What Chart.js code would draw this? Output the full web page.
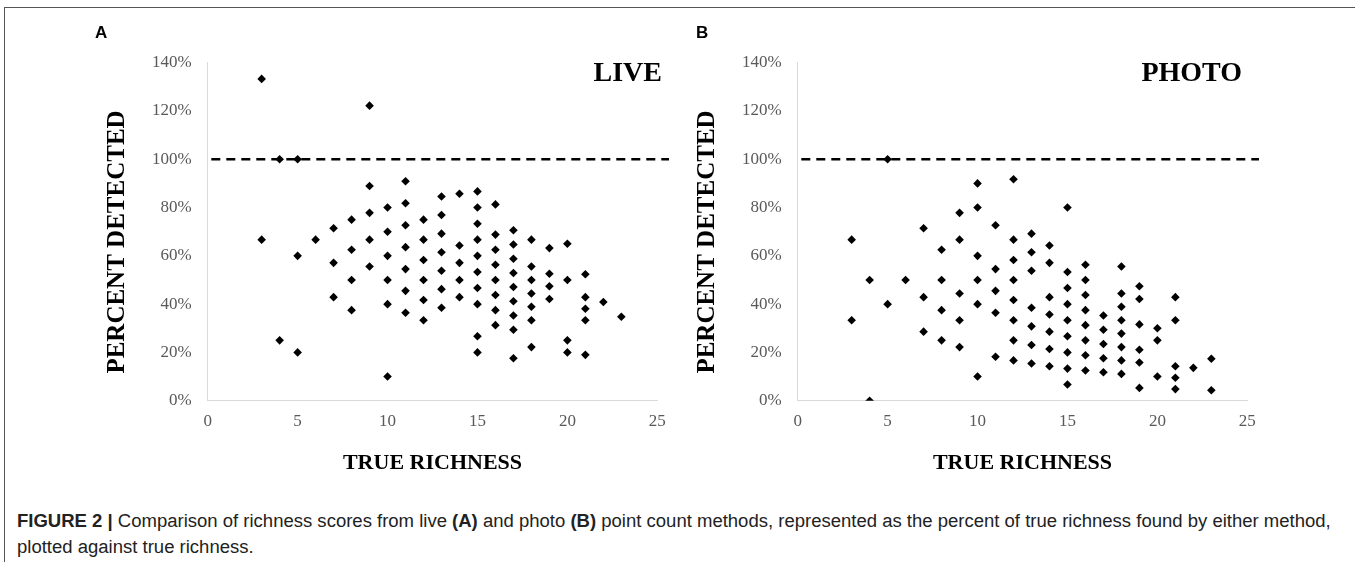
<!DOCTYPE html>
<html>
<head>
<meta charset="utf-8">
<script src="https://cdn.jsdelivr.net/npm/chart.js@4.4.1/dist/chart.umd.min.js"></script>
<style>
body{margin:0;background:#fff;width:1355px;height:562px;overflow:hidden;position:relative;font-family:"Liberation Sans",Arial,sans-serif}
#frame{position:absolute;left:4px;top:7px;right:0;bottom:0;border-top:1px solid #555;border-left:1px solid #555}
canvas{position:absolute;top:0}
#chartLive{left:0}
#chartPhoto{left:590px}
.cap{position:absolute;left:17px;white-space:nowrap;font-size:18px;line-height:18px;color:#222;transform-origin:0 0}
</style>
</head>
<body>
<div id="frame"></div>
<canvas id="chartLive" width="680" height="490"></canvas>
<canvas id="chartPhoto" width="680" height="490"></canvas>
<div class="cap" id="cap1" style="top:512px"><b>FIGURE 2 |</b> Comparison of richness scores from live <b>(A)</b> and photo <b>(B)</b> point count methods, represented as the percent of true richness found by either method,</div>
<div class="cap" id="cap2" style="top:538px">plotted against true richness.</div>
<script>
// LIVE: true richness / percent detected
const liveRichness = [3,3, 4,4, 5,5,5, 6, 7,7,7, 8,8,8,8, 9,9,9,9,9,
  10,10,10,10,10,10, 11,11,11,11,11,11,11, 12,12,12,12,12,12,
  13,13,13,13,13,13,13, 14,14,14,14,14,
  15,15,15,15,15,15,15,15,15,15, 16,16,16,16,16,16,16,16,
  17,17,17,17,17,17,17,17,17, 18,18,18,18,18,18,18, 19,19,19,19,
  20,20,20,20, 21,21,21,21,21, 22, 23];
const livePercent = [133.3,66.7, 100,25, 100,60,20, 66.7, 71.4,57.1,42.9, 75,62.5,50,37.5, 122.2,88.9,77.8,66.7,55.6,
  80,70,60,50,40,10, 90.9,81.8,72.7,63.6,54.5,45.5,36.4, 75,66.7,58.3,50,41.7,33.3,
  84.6,76.9,69.2,61.5,53.8,46.2,38.5, 85.7,64.3,57.1,50,42.9,
  86.7,80,73.3,66.7,60,53.3,46.7,40,26.7,20, 81.3,68.8,62.5,56.3,50,43.8,37.5,31.3,
  70.6,64.7,58.8,52.9,47.1,41.2,35.3,29.4,17.6, 66.7,55.6,50,44.4,38.9,33.3,22.2, 63.2,52.6,47.4,42.1,
  65,50,25,20, 52.4,42.9,38.1,33.3,19, 40.9, 34.8];

// PHOTO
const photoRichness = [3,3, 4,4, 5,5, 6, 7,7,7, 8,8,8,8, 9,9,9,9,9,
  10,10,10,10,10,10, 11,11,11,11,11, 12,12,12,12,12,12,12,12,
  13,13,13,13,13,13,13, 14,14,14,14,14,14,14,
  15,15,15,15,15,15,15,15,15, 16,16,16,16,16,16,16,16,
  17,17,17,17,17, 18,18,18,18,18,18,18,18, 19,19,19,19,19,19,
  20,20,20, 21,21,21,21,21, 22, 23,23];
const photoPercent = [66.7,33.3, 50,0, 100,40, 50, 71.4,42.9,28.6, 62.5,50,37.5,25, 77.8,66.7,44.4,33.3,22.2,
  90,80,60,50,40,10, 72.7,54.5,45.5,36.4,18.2, 91.7,66.7,58.3,50,41.7,33.3,25,16.7,
  69.2,61.5,53.8,38.5,30.8,23.1,15.4, 64.3,57.1,42.9,35.7,28.6,21.4,14.3,
  80,53.3,46.7,40,33.3,26.7,20,13.3,6.7, 56.3,50,43.8,37.5,31.3,25,18.8,12.5,
  35.3,29.4,23.5,17.6,11.8, 55.6,44.4,38.9,33.3,27.8,22.2,16.7,11.1, 47.4,42.1,31.6,21.1,15.8,5.3,
  30,25,10, 42.9,33.3,14.3,9.5,4.8, 13.6, 17.4,4.3];

const xTicks = [0,5,10,15,20,25];
const yTicks = [0,20,40,60,80,100,120,140];
const refX = [0.2, 25.65];
const refY = [100, 100];

// panel letter, corner label and the y title (sits a bit below the plot centre in the original)
const panelText = {
    id:'panelText',
    afterDraw(chart, args, o){
        const ctx = chart.ctx;
        ctx.save();
        ctx.fillStyle = '#000';
        ctx.textBaseline = 'alphabetic';
        ctx.font = 'bold 17px "Liberation Sans", Arial, sans-serif';
        ctx.textAlign = 'left';
        ctx.fillText(o.letter, o.letterX, o.letterY);
        ctx.font = 'bold 28px "Liberation Serif", serif';
        ctx.textAlign = 'right';
        ctx.fillText(o.label, o.labelX, o.labelY);
        ctx.translate(o.yTitleX, o.yTitleY);
        ctx.rotate(-Math.PI/2);
        ctx.textAlign = 'center';
        ctx.textBaseline = 'middle';
        ctx.font = 'bold 25px "Liberation Serif", serif';
        ctx.fillText(o.yTitle, 0, 0);
        ctx.restore();
    }
};

function makeChart(id, xs, ys, letter, letterX, label, labelX){
    const pts = xs.map((x,i)=>({x:x, y:ys[i]}));
    const ref = refX.map((x,i)=>({x:x, y:refY[i]}));
    const tickFont = {family:'"Liberation Serif", serif', size:17};
    return new Chart(document.getElementById(id), {
        type:'scatter',
        data:{datasets:[
            {data:pts, pointStyle:'rectRot', pointRadius:4.3, backgroundColor:'#000', borderColor:'#000', borderWidth:0},
            {type:'line', data:ref, borderColor:'#000', borderWidth:2.6, borderDash:[9,6], pointRadius:0, clip:false, fill:false}
        ]},
        options:{
            responsive:false, animation:false, devicePixelRatio:1,
            layout:{padding:{left:0, top:62.7, right:22.7, bottom:0}},
            plugins:{legend:{display:false}, tooltip:{enabled:false},
                panelText:{letter:letter, letterX:letterX, letterY:38, label:label, labelX:labelX, labelY:81,
                    yTitle:'PERCENT DETECTED', yTitleX:118, yTitleY:242}},
            scales:{
                x:{type:'linear', min:0, max:25,
                    afterBuildTicks:s=>{s.ticks = xTicks.map(v=>({value:v}));},
                    afterFit:s=>{s.height = 89.3;},
                    grid:{display:false, drawTicks:false},
                    border:{display:true, color:'#d9d9d9', width:1},
                    ticks:{font:tickFont, color:'#595959', padding:11, maxRotation:0},
                    title:{display:true, text:'TRUE RICHNESS', color:'#000',
                        font:{family:'"Liberation Serif", serif', size:22, weight:'bold'}, padding:{top:0, bottom:13.8}}
                },
                y:{type:'linear', min:0, max:140,
                    afterBuildTicks:s=>{s.ticks = yTicks.map(v=>({value:v}));},
                    afterFit:s=>{s.width = 207.7;},
                    grid:{display:false, drawTicks:false},
                    border:{display:true, color:'#d9d9d9', width:1},
                    ticks:{font:tickFont, color:'#595959', padding:16, callback:v=>v+'%'}
                }
            }
        },
        plugins:[panelText]
    });
}

makeChart('chartLive', liveRichness, livePercent, 'A', 95, 'LIVE', 662);
makeChart('chartPhoto', photoRichness, photoPercent, 'B', 106, 'PHOTO', 652);

// squeeze caption to the condensed width of the original
const cap1 = document.getElementById('cap1');
const cap2 = document.getElementById('cap2');
const k = 1314 / cap1.scrollWidth;
cap1.style.transform = 'scaleX(' + k + ')';
cap2.style.transform = 'scaleX(' + k + ')';
</script>
</body>
</html>
